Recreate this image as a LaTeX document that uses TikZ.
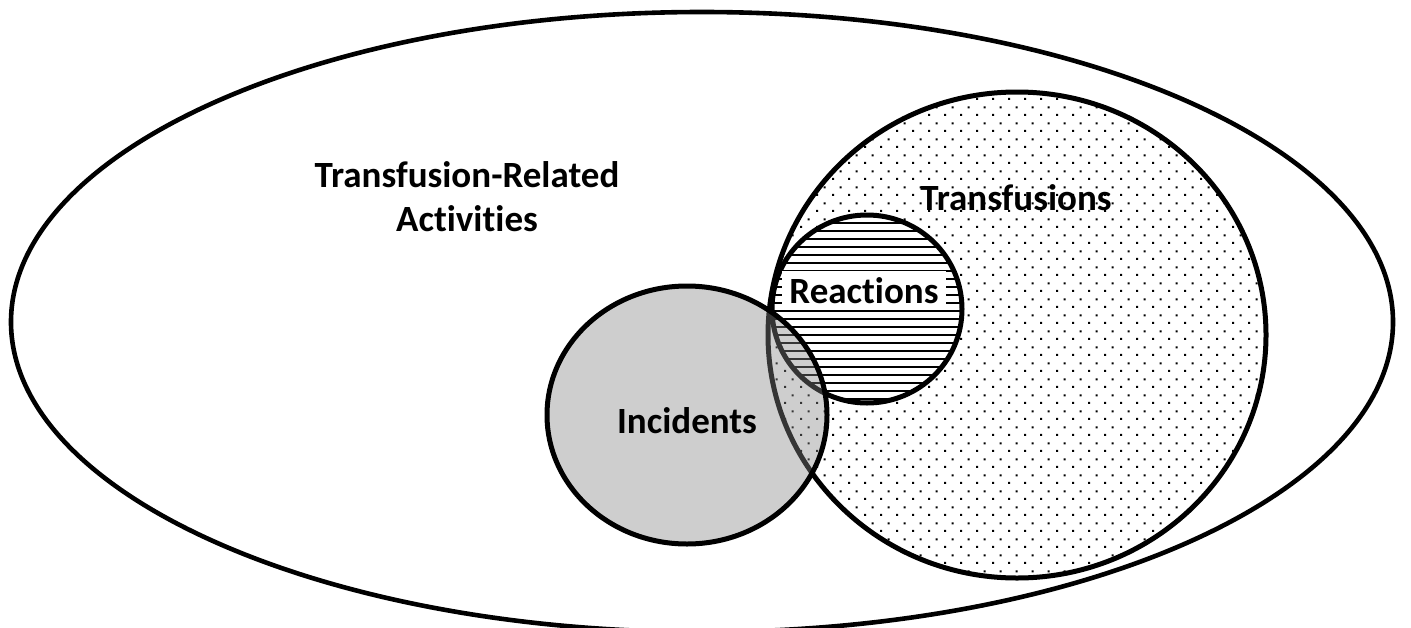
\documentclass[tikz,border=0pt]{standalone}
\usepackage{fontspec}
\setmainfont{Carlito}[Ligatures=NoCommon, RawFeature={-liga;-dlig}]
\usetikzlibrary{patterns}
\pgfdeclarepatternformonly{sparsedots}{\pgfpointorigin}{\pgfpoint{16pt}{16pt}}{\pgfpoint{16pt}{16pt}}{%
  \pgfpathrectangle{\pgfpoint{0pt}{0pt}}{\pgfpoint{2.2pt}{2.2pt}}%
  \pgfpathrectangle{\pgfpoint{8pt}{8pt}}{\pgfpoint{2.2pt}{2.2pt}}%
  \pgfusepath{fill}}
\pgfdeclarepatternformonly{hstripes}{\pgfpointorigin}{\pgfpoint{40pt}{8pt}}{\pgfpoint{39pt}{8pt}}{%
  \pgfpathrectangle{\pgfpoint{0pt}{3pt}}{\pgfpoint{40pt}{2.2pt}}%
  \pgfusepath{fill}}
\begin{document}
\begin{tikzpicture}[x=1pt,y=-1pt,
  outline/.style={draw=black, line width=5pt},
  lbl/.style={font=\fontsize{37}{44}\selectfont\bfseries, inner sep=0pt, text=black}]
\useasboundingbox (0,0) rectangle (1411,627);
% outer ellipse
\draw[outline, line width=4.6pt] (702,322) ellipse [x radius=691pt, y radius=310pt];
% transfusions
\fill[white] (1017,335) ellipse [x radius=249pt, y radius=243pt];
\path[pattern=sparsedots] (1017,335) ellipse [x radius=249pt, y radius=243pt];
\draw[outline] (1017,335) ellipse [x radius=249pt, y radius=243pt];
% reactions
\fill[white] (867,309) ellipse [x radius=95pt, y radius=94pt];
\path[pattern=hstripes] (867,309) ellipse [x radius=95pt, y radius=94pt];
\draw[outline] (867,309) ellipse [x radius=95pt, y radius=94pt];
% incidents
\path[fill={rgb,1:red,0.52;green,0.52;blue,0.52}, fill opacity=0.4] (687,415) ellipse [x radius=140pt, y radius=129pt];
\draw[outline] (687,415) ellipse [x radius=140pt, y radius=129pt];
% labels
\node[lbl, anchor=base] (act1) at (467,187) {Transfusion-Related};
\node[lbl, anchor=base] (act2) at (467,231) {Activities};
\node[lbl, anchor=base] (trans) at (1016,210) {Transfusions};
\node[lbl, anchor=base, fill=white, inner xsep=7pt, inner ysep=0pt, minimum height=38pt] (reac) at (864,303) {Reactions};
\node[lbl, anchor=base] (inc) at (687,433) {Incidents};
\end{tikzpicture}
\end{document}
